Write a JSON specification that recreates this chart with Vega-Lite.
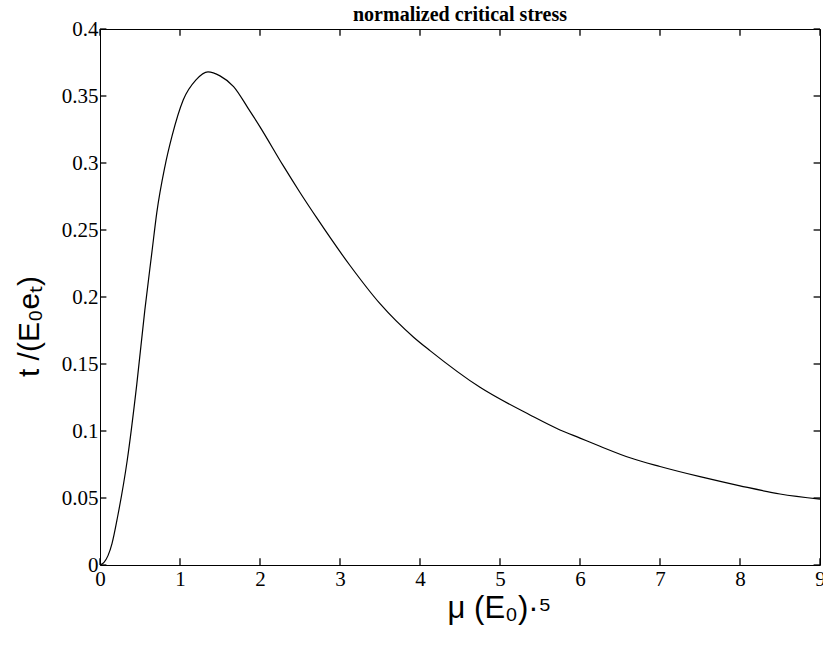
{
  "$schema": "https://vega.github.io/schema/vega-lite/v6.json",
  "width": 720,
  "height": 536,
  "autosize": "none",
  "padding": {"left": 100, "top": 29, "right": 3, "bottom": 85},
  "background": "white",
  "config": {
    "view": {"stroke": "black", "strokeWidth": 1},
    "axis": {"grid": false, "labelColor": "black", "titleColor": "black"}
  },
  "title": {
    "text": "normalized critical stress",
    "font": "Liberation Serif",
    "fontSize": 20,
    "fontWeight": "bold",
    "color": "black",
    "anchor": "middle",
    "offset": -7
  },
  "datasets": {
    "curve": [
      {"x": 0, "y": 0},
      {"x": 0.05, "y": 0.002},
      {"x": 0.1, "y": 0.007},
      {"x": 0.15, "y": 0.016},
      {"x": 0.22, "y": 0.036},
      {"x": 0.34, "y": 0.078},
      {"x": 0.46, "y": 0.135},
      {"x": 0.56, "y": 0.19},
      {"x": 0.65, "y": 0.234},
      {"x": 0.71, "y": 0.263},
      {"x": 0.81, "y": 0.297},
      {"x": 0.9, "y": 0.32},
      {"x": 1.04, "y": 0.347},
      {"x": 1.2, "y": 0.362},
      {"x": 1.35, "y": 0.368},
      {"x": 1.5, "y": 0.365},
      {"x": 1.67, "y": 0.357},
      {"x": 1.85, "y": 0.341},
      {"x": 2.0, "y": 0.327},
      {"x": 2.29, "y": 0.298},
      {"x": 2.5, "y": 0.278},
      {"x": 2.71, "y": 0.259},
      {"x": 3.125, "y": 0.2235},
      {"x": 3.5, "y": 0.195},
      {"x": 3.92, "y": 0.170},
      {"x": 4.125, "y": 0.160},
      {"x": 4.75, "y": 0.1326},
      {"x": 5.375, "y": 0.112},
      {"x": 5.75, "y": 0.1008},
      {"x": 6.0, "y": 0.0947},
      {"x": 6.25, "y": 0.0886},
      {"x": 6.625, "y": 0.080},
      {"x": 7.0, "y": 0.0735},
      {"x": 7.5, "y": 0.0659},
      {"x": 8.0, "y": 0.0591},
      {"x": 8.5, "y": 0.053},
      {"x": 9.0, "y": 0.0492}
    ],
    "xticks": [{"v": 0}, {"v": 1}, {"v": 2}, {"v": 3}, {"v": 4}, {"v": 5}, {"v": 6}, {"v": 7}, {"v": 8}, {"v": 9}],
    "yticks": [{"v": 0}, {"v": 0.05}, {"v": 0.1}, {"v": 0.15}, {"v": 0.2}, {"v": 0.25}, {"v": 0.3}, {"v": 0.35}, {"v": 0.4}]
  },
  "layer": [
    {
      "data": {"name": "curve"},
      "mark": {"type": "line", "color": "black", "strokeWidth": 1.2, "interpolate": "monotone", "clip": true},
      "encoding": {
        "x": {
          "field": "x", "type": "quantitative",
          "scale": {"domain": [0, 9], "nice": false, "zero": false},
          "axis": {
            "orient": "bottom", "values": [0,1,2,3,4,5,6,7,8,9], "format": "~g",
            "domain": false, "ticks": false, "labelPadding": 3,
            "labelFont": "Liberation Serif", "labelFontSize": 21, "labelFlush": false,
            "title": "μ (E₀)·⁵", "titleFont": "Liberation Sans", "titleFontSize": 31, "titleFontWeight": "normal", "titlePadding": 4, "titleX": 399
          }
        },
        "y": {
          "field": "y", "type": "quantitative",
          "scale": {"domain": [0, 0.4], "nice": false, "zero": false},
          "axis": {
            "orient": "left", "values": [0,0.05,0.1,0.15,0.2,0.25,0.3,0.35,0.4], "format": "~g",
            "domain": false, "ticks": false, "labelPadding": 2,
            "labelFont": "Liberation Serif", "labelFontSize": 21, "labelFlush": false,
            "title": "t /(E₀eₜ)", "titleFont": "Liberation Sans", "titleFontSize": 30, "titleFontWeight": "normal", "titlePadding": 17, "titleY": 297
          }
        }
      }
    },
    {
      "data": {"name": "xticks"},
      "mark": {"type": "rule", "color": "black", "strokeWidth": 1.3},
      "encoding": {
        "x": {"field": "v", "type": "quantitative", "axis": null},
        "y": {"datum": 0, "type": "quantitative", "axis": null},
        "y2": {"datum": 0.005}
      }
    },
    {
      "data": {"name": "xticks"},
      "mark": {"type": "rule", "color": "black", "strokeWidth": 1.3},
      "encoding": {
        "x": {"field": "v", "type": "quantitative", "axis": null},
        "y": {"datum": 0.4, "type": "quantitative", "axis": null},
        "y2": {"datum": 0.395}
      }
    },
    {
      "data": {"name": "yticks"},
      "mark": {"type": "rule", "color": "black", "strokeWidth": 1.3},
      "encoding": {
        "y": {"field": "v", "type": "quantitative", "axis": null},
        "x": {"datum": 0, "type": "quantitative", "axis": null},
        "x2": {"datum": 0.08}
      }
    },
    {
      "data": {"name": "yticks"},
      "mark": {"type": "rule", "color": "black", "strokeWidth": 1.3},
      "encoding": {
        "y": {"field": "v", "type": "quantitative", "axis": null},
        "x": {"datum": 9, "type": "quantitative", "axis": null},
        "x2": {"datum": 8.92}
      }
    }
  ],
  "resolve": {"axis": {"x": "independent", "y": "independent"}}
}
